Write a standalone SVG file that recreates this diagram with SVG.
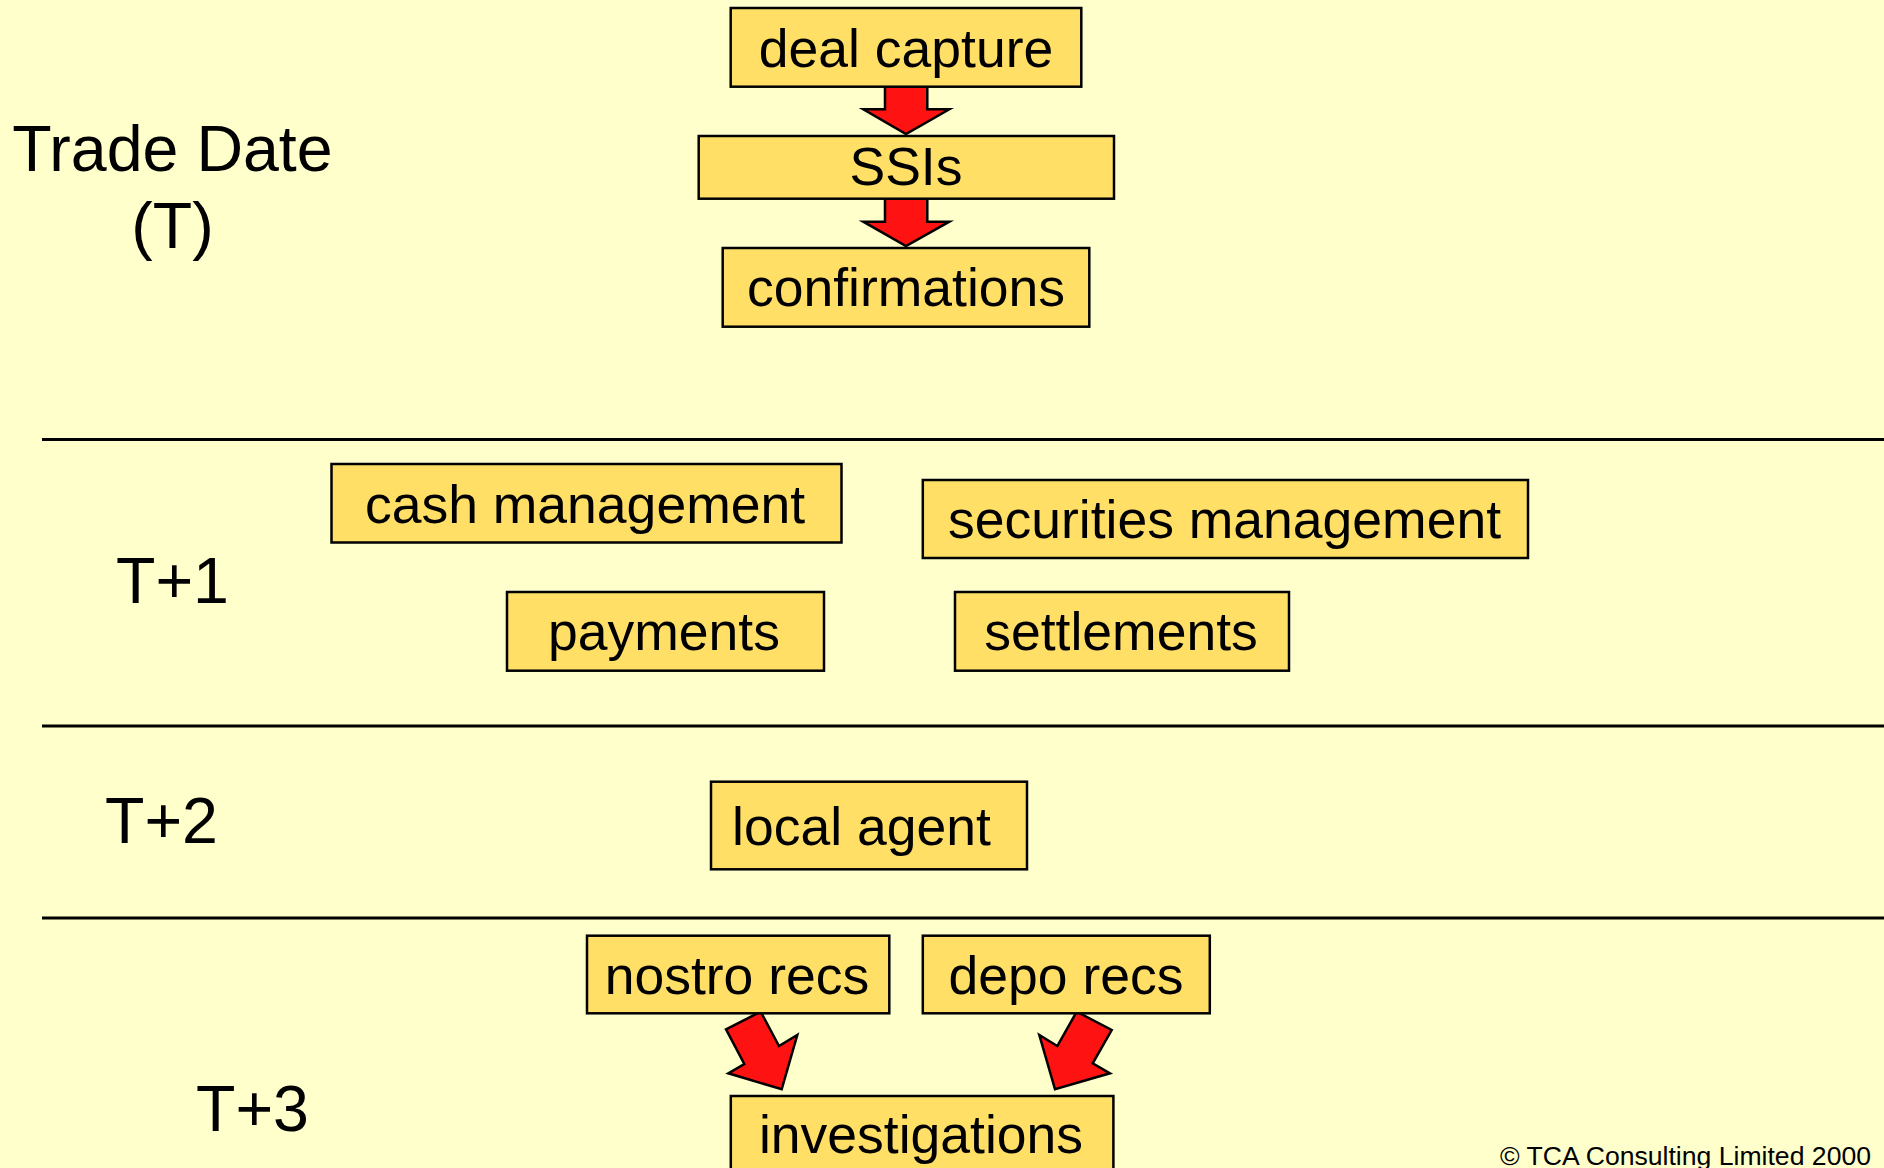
<svg xmlns="http://www.w3.org/2000/svg" width="1884" height="1168" viewBox="0 0 1884 1168">
<style>
.bg{fill:#FFFFCC}
.box{fill:#FFDF66;stroke:#000;stroke-width:2.5}
.lbl{font-family:"Liberation Sans",Arial,sans-serif;font-size:53.5px;fill:#000;text-anchor:middle}
.day{font-family:"Liberation Sans",Arial,sans-serif;font-size:64.5px;fill:#000}
.sep{stroke:#000;stroke-width:3}
.arr{fill:#FF1212;stroke:#000;stroke-width:2.5;stroke-linejoin:miter}
.copy{font-family:"Liberation Sans",Arial,sans-serif;font-size:26.6px;fill:#000;text-anchor:end}
</style>
<rect class="bg" x="0" y="0" width="1884" height="1168"/>
<g id="separators">
<line class="sep" x1="42" y1="439.5" x2="1884" y2="439.5"/>
<line class="sep" x1="42" y1="726" x2="1884" y2="726"/>
<line class="sep" x1="42" y1="918" x2="1884" y2="918"/>
</g>
<g id="day-labels">
<text class="day" x="172.5" y="171" text-anchor="middle">Trade Date</text>
<text class="day" x="172.5" y="248" text-anchor="middle">(T)</text>
<text class="day" x="116" y="602.5">T+1</text>
<text class="day" x="105" y="842.5">T+2</text>
<text class="day" x="196" y="1130.5">T+3</text>
</g>
<g id="connectors">
<polygon class="arr" points="885,86.7 927.3,86.7 927.3,109.3 949.3,109.3 906,134 863.3,109.3 885,109.3"/>
<polygon class="arr" points="885,198.7 927.3,198.7 927.3,221.7 949.3,221.7 906,246 863.3,221.7 885,221.7"/>
<polygon class="arr" points="726,1029.3 760.7,1011.7 779,1046 797.3,1035 781.7,1089.3 728.3,1073.3 744.3,1064"/>
<polygon class="arr" points="1076.7,1011.7 1111.7,1030 1092.7,1063.3 1110,1073.3 1055,1089.3 1039.3,1035 1057.3,1046"/>
</g>
<g id="deal-capture">
<rect class="box" x="730.7" y="8" width="350.6" height="78.7"/>
<text class="lbl" x="906" y="66.7">deal capture</text>
</g>
<g id="ssis">
<rect class="box" x="698.7" y="136" width="415.3" height="62.7"/>
<text class="lbl" x="906" y="185.3">SSIs</text>
</g>
<g id="confirmations">
<rect class="box" x="722.7" y="248" width="366.6" height="78.7"/>
<text class="lbl" x="906" y="306">confirmations</text>
</g>
<g id="cash-management">
<rect class="box" x="331.5" y="464" width="510" height="78.5"/>
<text class="lbl" x="585" y="522.7">cash management</text>
</g>
<g id="securities-management">
<rect class="box" x="922.8" y="480" width="605.2" height="78"/>
<text class="lbl" x="1224.5" y="538.3">securities management</text>
</g>
<g id="payments">
<rect class="box" x="507" y="592" width="317" height="78.7"/>
<text class="lbl" x="664" y="650">payments</text>
</g>
<g id="settlements">
<rect class="box" x="955" y="592" width="334" height="78.7"/>
<text class="lbl" x="1121" y="650">settlements</text>
</g>
<g id="local-agent">
<rect class="box" x="711" y="781.7" width="316" height="87.6"/>
<text class="lbl" x="861.5" y="845">local agent</text>
</g>
<g id="nostro-recs">
<rect class="box" x="587" y="935.7" width="302.3" height="77.6"/>
<text class="lbl" x="737" y="994">nostro recs</text>
</g>
<g id="depo-recs">
<rect class="box" x="922.8" y="935.7" width="287" height="77.6"/>
<text class="lbl" x="1066" y="994">depo recs</text>
</g>
<g id="investigations">
<rect class="box" x="730.8" y="1096" width="382.6" height="90"/>
<text class="lbl" x="921" y="1153">investigations</text>
</g>
<text class="copy" x="1871" y="1165">© TCA Consulting Limited 2000</text>
</svg>
